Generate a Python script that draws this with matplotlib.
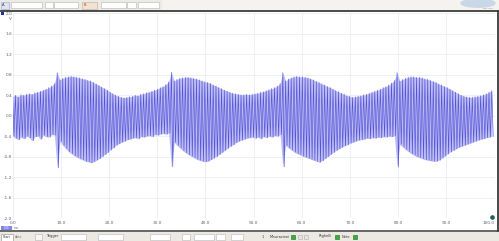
import numpy as np
import matplotlib
matplotlib.use("Agg")  # headless
import matplotlib.pyplot as plt
from matplotlib.patches import Rectangle, Ellipse

# scope capture, channel A ----------------
CYCLE_MS = 0.578  # carrier period (ms)

# peak of each carrier cycle (V), one value per cycle
upper_v = [
    # before 1st click
    0.38, 0.40, 0.37, 0.41, 0.40, 0.42, 0.43, 0.42, 0.45, 0.46, 0.48, 0.50, 0.52, 0.55, 0.58, 0.63,
    0.84,
    0.70, 0.73, 0.75, 0.76, 0.77, 0.76, 0.75, 0.74, 0.72, 0.71, 0.69, 0.68, 0.65, 0.62, 0.59, 0.56,
    0.53, 0.50, 0.46, 0.43, 0.40, 0.38, 0.36, 0.35, 0.36, 0.37, 0.38, 0.40, 0.39, 0.42, 0.43, 0.45,
    0.46, 0.48, 0.50, 0.52, 0.55, 0.57, 0.61, 0.66,
    0.85,
    0.68, 0.71, 0.73, 0.74, 0.75, 0.75, 0.74, 0.73, 0.72, 0.70, 0.68, 0.66, 0.65, 0.63, 0.60, 0.58,
    0.55, 0.53, 0.50, 0.48, 0.46, 0.44, 0.43, 0.42, 0.41, 0.41, 0.42, 0.41, 0.42, 0.43, 0.44, 0.46,
    0.47, 0.49, 0.51, 0.53, 0.55, 0.58, 0.63,
    0.84,
    0.68, 0.72, 0.74, 0.76, 0.77, 0.76, 0.76, 0.75, 0.74, 0.72, 0.70, 0.67, 0.65, 0.62, 0.60, 0.57,
    0.55, 0.52, 0.49, 0.47, 0.44, 0.42, 0.39, 0.38, 0.36, 0.37, 0.38, 0.39, 0.41, 0.42, 0.44, 0.46,
    0.48, 0.50, 0.52, 0.55, 0.57, 0.60, 0.64, 0.69,
    0.84,
    0.68, 0.71, 0.73, 0.75, 0.76, 0.76, 0.75, 0.75, 0.74, 0.72, 0.71, 0.69, 0.67, 0.65, 0.62, 0.60,
    0.57, 0.55, 0.52, 0.49, 0.46, 0.43, 0.40, 0.38, 0.37, 0.36, 0.36, 0.37, 0.38, 0.39, 0.41, 0.43,
    0.46, 0.49,
]

# trough of each carrier cycle (V)
lower_v = [
    -0.40, -0.44, -0.47, -0.42, -0.45, -0.40, -0.43, -0.49, -0.41, -0.40, -0.46, -0.38, -0.41, -0.42, -0.37, -0.38,
    -1.02,
    -0.50, -0.58, -0.64, -0.70, -0.74, -0.78, -0.81, -0.84, -0.86, -0.89, -0.90, -0.92, -0.90, -0.87, -0.84, -0.80,
    -0.76, -0.72, -0.67, -0.63, -0.58, -0.55, -0.52, -0.50, -0.47, -0.46, -0.44, -0.43, -0.45, -0.41, -0.42, -0.40,
    -0.39, -0.41, -0.37, -0.38, -0.36, -0.35, -0.36, -0.34,
    -1.00,
    -0.52, -0.58, -0.63, -0.68, -0.72, -0.76, -0.79, -0.82, -0.85, -0.87, -0.89, -0.90, -0.89, -0.86, -0.83, -0.80,
    -0.76, -0.72, -0.68, -0.64, -0.60, -0.57, -0.53, -0.50, -0.48, -0.46, -0.44, -0.43, -0.42, -0.44, -0.42, -0.45,
    -0.41, -0.43, -0.40, -0.42, -0.39, -0.40, -0.37,
    -1.00,
    -0.58, -0.63, -0.67, -0.71, -0.74, -0.76, -0.79, -0.81, -0.83, -0.85, -0.87, -0.89, -0.91, -0.88, -0.84, -0.80,
    -0.76, -0.72, -0.68, -0.65, -0.62, -0.59, -0.57, -0.54, -0.52, -0.50, -0.48, -0.47, -0.46, -0.44, -0.45, -0.43,
    -0.44, -0.42, -0.43, -0.41, -0.42, -0.40, -0.41, -0.39,
    -1.00,
    -0.56, -0.61, -0.66, -0.70, -0.74, -0.77, -0.80, -0.82, -0.84, -0.86, -0.87, -0.88, -0.89, -0.89, -0.87, -0.83,
    -0.79, -0.75, -0.71, -0.68, -0.65, -0.62, -0.60, -0.58, -0.56, -0.54, -0.52, -0.50, -0.48, -0.46, -0.45, -0.43,
    -0.42, -0.40,
]

x_ticks = [0, 10, 20, 30, 40, 50, 60, 70, 80, 90, 100]
x_labels = ["0.0", "10.0", "20.0", "30.0", "40.0", "50.0", "60.0", "70.0", "80.0", "90.0", "100.0"]
y_ticks = [-2.0, -1.6, -1.2, -0.8, -0.4, 0.0, 0.4, 0.8, 1.2, 1.6, 2.0]
y_labels = ["-2.0", "-1.6", "-1.2", "-0.8", "-0.4", "0.0", "0.4", "0.8", "1.2", "1.6", "2.0"]

# colours --------------
TRACE = "#5252d8"
TRACE_FILL = "#bdbdf3"
GRID = "#e4eaf0"
LABEL = "#5a6478"
BORDER = "#3c3c3c"

# figure + a pixel-space backdrop for the scope window chrome
fig = plt.figure(figsize=(4.99, 2.41), dpi=100)
bg = fig.add_axes([0, 0, 1, 1])
bg.set_xlim(0, 499)
bg.set_ylim(241, 0)
bg.axis("off")


def box(x, y, w, h, fc, ec="none", lw=0.4):
    bg.add_patch(Rectangle((x, y), w, h, facecolor=fc, edgecolor=ec, linewidth=lw))


def label(x, y, s, size=2.6, color="#333333", ha="left"):
    bg.text(x, y, s, fontsize=size, color=color, ha=ha, va="center")


# top toolbar
box(0, 0, 499, 10, "#f4f3f0")
box(0, 0, 162, 10, "#ebeae5")
box(1, 1.5, 8, 7, "#dfe3ee", "#9aa4c0")
label(2.2, 4.5, "A", 2.6, "#1c2fa8")
for x0, w in [(11, 31), (45, 8), (54, 24), (101, 25), (127, 9), (138, 21)]:
    box(x0, 1.8, w, 6.4, "white", "#b4b4b4")
box(82, 1.5, 15, 7, "#f2e2d6", "#c8a890")
label(83.5, 4.5, "B", 2.6, "#b04010")
bg.add_patch(Ellipse((478, 3.2), 34, 8, color="#c9d7e7"))
label(482, 8.3, "Technology", 1.4, "#7a8896")

# bottom toolbar
box(0, 232, 499, 9, "#ece9e3")
box(1, 234, 12, 6.5, "white", "#8c8c8c")
label(2.5, 237.3, "Start", 2.3)
label(15, 236.5, "Auto", 2.3, "#777777")
box(35, 234, 7, 6, "#f6f6f6", "#b4b4b4")
label(46, 236.5, "Trigger", 2.5)
for x0, w in [(61, 25), (98, 25), (150, 20), (182, 8), (194, 20), (216, 9), (231, 12)]:
    box(x0, 234, w, 6, "white", "#b8b8b8")
label(262, 236.5, "1", 2.4)
label(270, 236.5, "Misurazioni", 2.5)
label(319, 236.5, "Righelli", 2.5)
label(342, 236.5, "Note", 2.5)
for gx in [291, 335, 353]:
    box(gx, 234.5, 4.5, 4.5, "#3cae3c", "#1c6e1c")
for gx in [298, 304]:
    box(gx, 234.5, 4.5, 4.5, "#e4e4e4", "#b0b0b0")

# window frame
bg.plot([0, 499], [10.6, 10.6], color=BORDER, lw=1.3)
bg.plot([0, 499], [231.2, 231.2], color=BORDER, lw=1.1)
bg.plot([497.9, 497.9], [10.6, 231.2], color=BORDER, lw=1.3)

# channel marker, unit and zoom tag
box(1.5, 12, 3, 3, "#1c2fa8")
label(11.5, 19.5, "V", 3.0, LABEL, ha="right")
box(1, 225.5, 11, 4.5, "#8484e4")
label(6.5, 227.8, "1.00", 1.8, "white", ha="center")
label(14, 227.8, "ms", 2.4, "#777777")

# trace axes -------------
ax = fig.add_axes([12.6 / 499, (241 - 218.1) / 241, 482 / 499, 204.8 / 241])
ax.patch.set_alpha(0)
ax.set_xlim(0, 100)
ax.set_ylim(-2, 2)
for s in ax.spines.values():
    s.set_visible(False)

ax.set_xticks(x_ticks)
ax.set_xticklabels(x_labels)
ax.set_yticks(y_ticks)
ax.set_yticklabels(y_labels)
ax.tick_params(axis="both", length=0, labelsize=3.1, labelcolor=LABEL)
ax.tick_params(axis="x", pad=2.2)
ax.tick_params(axis="y", pad=0.2)
ax.get_xticklabels()[-1].set_horizontalalignment("right")  # keeps "100.0" inside the frame
ax.grid(True, color=GRID, linewidth=0.5)
ax.set_axisbelow(True)

# one zigzag stroke per carrier cycle: peak, then trough half a cycle later
n = len(upper_v)
t_up = np.arange(n) * CYCLE_MS
t_dn = t_up + CYCLE_MS / 2
t = np.empty(2 * n)
v = np.empty(2 * n)
t[0::2], t[1::2] = t_up, t_dn
v[0::2], v[1::2] = upper_v, lower_v

ax.fill_between(t_up, lower_v, upper_v, color=TRACE_FILL, linewidth=0, zorder=2)
ax.plot(t, v, color=TRACE, linewidth=0.45, zorder=3)

# ruler handle at bottom-right
bg.plot(492, 217.4, "o", ms=2.3, color="#1f5f5a")

fig.savefig("out.png", dpi=100)
